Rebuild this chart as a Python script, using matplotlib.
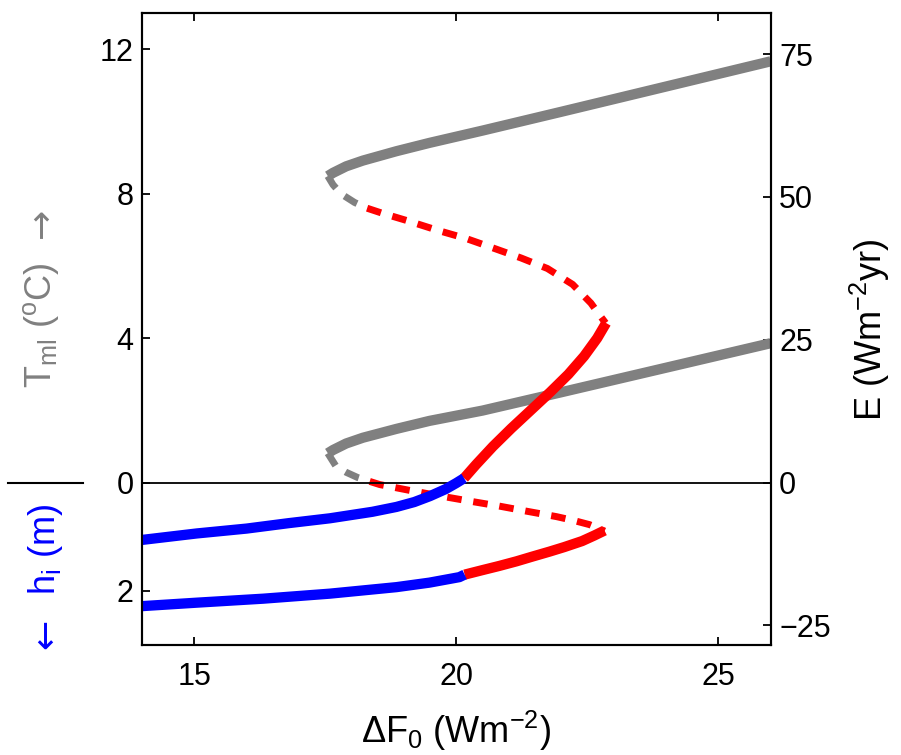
import matplotlib
matplotlib.use("Agg")
import matplotlib.pyplot as plt
import matplotlib.transforms as mtransforms
from matplotlib.lines import Line2D
import numpy as np

# --- data -----------------------------------------------------------------
# upper S-curve: mixed-layer temperature (degC) / ice thickness (m), left axis
TML_WARM_X = [17.55, 17.65, 17.9, 18.22, 18.86, 19.49, 20.5, 22.0, 24.0, 26.0]
TML_WARM_Y = [8.49, 8.58, 8.76, 8.92, 9.18, 9.41, 9.75, 10.27, 10.97, 11.67]
TML_UNST_GRAY_X = [17.55, 17.65, 17.8, 18.06, 18.3]
TML_UNST_GRAY_Y = [8.49, 8.25, 8.0, 7.76, 7.6]
TML_UNST_RED_X = [18.3, 18.57, 19.1, 19.64, 20.19, 20.70, 21.24, 21.74, 22.22,
                  22.57, 22.73, 22.85]
TML_UNST_RED_Y = [7.6, 7.47, 7.24, 6.99, 6.76, 6.5, 6.22, 5.93, 5.49,
                  4.97, 4.65, 4.42]
TML_SEAS_X = [22.86, 22.69, 22.44, 22.14, 21.79, 21.42, 21.05, 20.70, 20.38, 20.15]
TML_SEAS_Y = [4.42, 4.0, 3.5, 3.0, 2.5, 2.0, 1.5, 1.0, 0.5, 0.12]
HI_PERM_X = [20.15, 20.0, 19.8, 19.5, 19.2, 18.86, 18.4, 17.59, 16.8, 16.0, 15.05, 14.0]
HI_PERM = [-0.08, 0.01, 0.12, 0.25, 0.36, 0.45, 0.54, 0.66, 0.75, 0.85, 0.94, 1.06]

# lower S-curve: energy E (W m^-2 yr), right axis
E_WARM_X = [17.55, 17.65, 17.9, 18.22, 18.86, 19.49, 20.5, 22.0, 24.0, 26.0]
E_WARM = [5.13, 5.7, 6.84, 7.85, 9.4, 10.8, 12.6, 15.8, 20.1, 24.4]
E_UNST_GRAY_X = [17.55, 17.71, 17.9, 18.12, 18.35]
E_UNST_GRAY = [5.13, 2.8, 1.8, 0.88, 0.2]
E_UNST_RED_X = [18.35, 18.54, 19.11, 19.74, 20.25, 20.82, 21.34, 21.91, 22.25,
                22.54, 22.73, 22.83]
E_UNST_RED = [0.2, -0.35, -1.37, -2.42, -3.24, -4.12, -5.01, -5.96, -6.66,
              -7.36, -8.06, -8.5]
E_SEAS_X = [22.83, 22.63, 22.4, 22.06, 21.78, 21.45, 21.15, 20.82, 20.5, 20.16]
E_SEAS = [-8.4, -9.29, -10.25, -11.3, -12.09, -12.97, -13.79, -14.6, -15.33, -16.12]
E_PERM_X = [20.16, 20.06, 19.49, 18.86, 17.59, 16.32, 15.05, 14.0]
E_PERM = [-16.12, -16.56, -17.52, -18.31, -19.45, -20.33, -21.03, -21.64]

X_TICKS = [15, 20, 25]
TML_TICKS = [12, 8, 4, 0]
HI_TICKS = [2]
E_TICKS = [75, 50, 25, 0, -25]

HI_SCALE = 1.5      # plotted as -HI_SCALE * h_i on the left axis
E_PER_UNIT = 6.32   # right-axis units per left-axis unit

GRAY = "#808080"
RED = "#ff0000"
BLUE = "#0000ff"

plt.rcParams.update({
    "font.family": ["Liberation Sans", "DejaVu Sans"],
    "font.size": 22,
    "mathtext.fontset": "custom",
    "mathtext.rm": "Liberation Sans",
    "mathtext.it": "Liberation Sans:italic",
    "mathtext.bf": "Liberation Sans:bold",
    "lines.scale_dashes": False,
    "lines.solid_joinstyle": "round",
    "lines.dash_joinstyle": "round",
    "axes.linewidth": 1.5,
    "xtick.direction": "in",
    "ytick.direction": "in",
    "xtick.major.size": 6,
    "ytick.major.size": 6,
    "xtick.major.width": 1.3,
    "ytick.major.width": 1.3,
})

fig = plt.figure(figsize=(9.01, 7.55), dpi=100)
ax2 = fig.add_axes([0.1573, 0.1457, 0.6981, 0.8367])
ax = fig.add_axes([0.1573, 0.1457, 0.6981, 0.8367], sharex=ax2)
ax.patch.set_visible(False)

solid_lw = 7.4
dash_lw = 5.0
dash = (10.5, 8.5)

# lower curve (E) on the back axis
ax2.plot(E_WARM_X, E_WARM, color=GRAY, lw=solid_lw, solid_capstyle="butt")
ax2.plot(E_UNST_GRAY_X, E_UNST_GRAY, color=GRAY, lw=dash_lw, dashes=dash,
         dash_capstyle="butt")
ax2.plot(E_UNST_RED_X, E_UNST_RED, color=RED, lw=dash_lw, dashes=dash,
         dash_capstyle="butt")
ax2.plot(E_SEAS_X, E_SEAS, color=RED, lw=solid_lw, solid_capstyle="butt")
ax2.plot(E_PERM_X, E_PERM, color=BLUE, lw=solid_lw, solid_capstyle="butt")

# upper curve (T_ml / h_i) on the front axis
ax.axhline(0, color="black", lw=1.3, zorder=1)
ax.plot(TML_WARM_X, TML_WARM_Y, color=GRAY, lw=solid_lw, solid_capstyle="butt")
ax.plot(TML_UNST_GRAY_X, TML_UNST_GRAY_Y, color=GRAY, lw=dash_lw, dashes=dash,
        dash_capstyle="butt")
ax.plot(TML_UNST_RED_X, TML_UNST_RED_Y, color=RED, lw=dash_lw, dashes=dash,
        dash_capstyle="butt")
ax.plot(TML_SEAS_X, TML_SEAS_Y, color=RED, lw=solid_lw, solid_capstyle="butt")
ax.plot(HI_PERM_X, -HI_SCALE * np.array(HI_PERM), color=BLUE, lw=solid_lw,
        solid_capstyle="butt")

ylim = (-4.5, 13.0)
ax.set_xlim(14, 26)
ax.set_ylim(*ylim)
ax2.set_ylim(ylim[0] * E_PER_UNIT, ylim[1] * E_PER_UNIT)

ax.set_xticks(X_TICKS)
ax.set_xticklabels([str(v) for v in X_TICKS])
ax.tick_params(axis="x", top=True, pad=12)
left_pos = TML_TICKS + [-HI_SCALE * h for h in HI_TICKS]
ax.set_yticks(left_pos)
ax.set_yticklabels([str(v) for v in TML_TICKS] + [str(h) for h in HI_TICKS])
ax.tick_params(axis="y", left=True, right=False, pad=6)

ax2.yaxis.tick_right()
ax2.set_yticks(E_TICKS)
ax2.set_yticklabels([str(v).replace("-", "\u2212") for v in E_TICKS])
ax2.tick_params(axis="y", left=False, right=True, pad=6)
ax2.tick_params(axis="x", bottom=False, labelbottom=False)

label_size = 26
ax.set_xlabel("\u0394F$_{\\mathrm{0}}$ (Wm$^{\\mathrm{-2}}$)", fontsize=label_size,
              labelpad=12)

fig.text(0.046, 0.569, "T$_{\\mathrm{ml}}$ ($^{\\mathrm{o}}$C)", color=GRAY,
         rotation=90, ha="center", va="center", fontsize=label_size)
fig.text(0.046, 0.705, "\u2192", color=GRAY, rotation=90, ha="center",
         va="center", fontsize=label_size, family="DejaVu Sans")
fig.text(0.051, 0.272, "h$_{\\mathrm{i}}$ (m)", color=BLUE,
         rotation=90, ha="center", va="center", fontsize=label_size)
fig.text(0.051, 0.161, "\u2190", color=BLUE, rotation=90, ha="center",
         va="center", fontsize=label_size, family="DejaVu Sans")
fig.text(0.966, 0.563, "E (Wm$^{\\mathrm{-2}}$yr)", color="black",
         rotation=90, ha="center", va="center", fontsize=label_size)

# separator between the two left-axis labels, at the zero level
trans = mtransforms.blended_transform_factory(fig.transFigure, ax.transData)
fig.add_artist(Line2D([0.009, 0.092], [0, 0], transform=trans, color="black",
                      lw=1.5))

fig.savefig("out.png", dpi=100)
